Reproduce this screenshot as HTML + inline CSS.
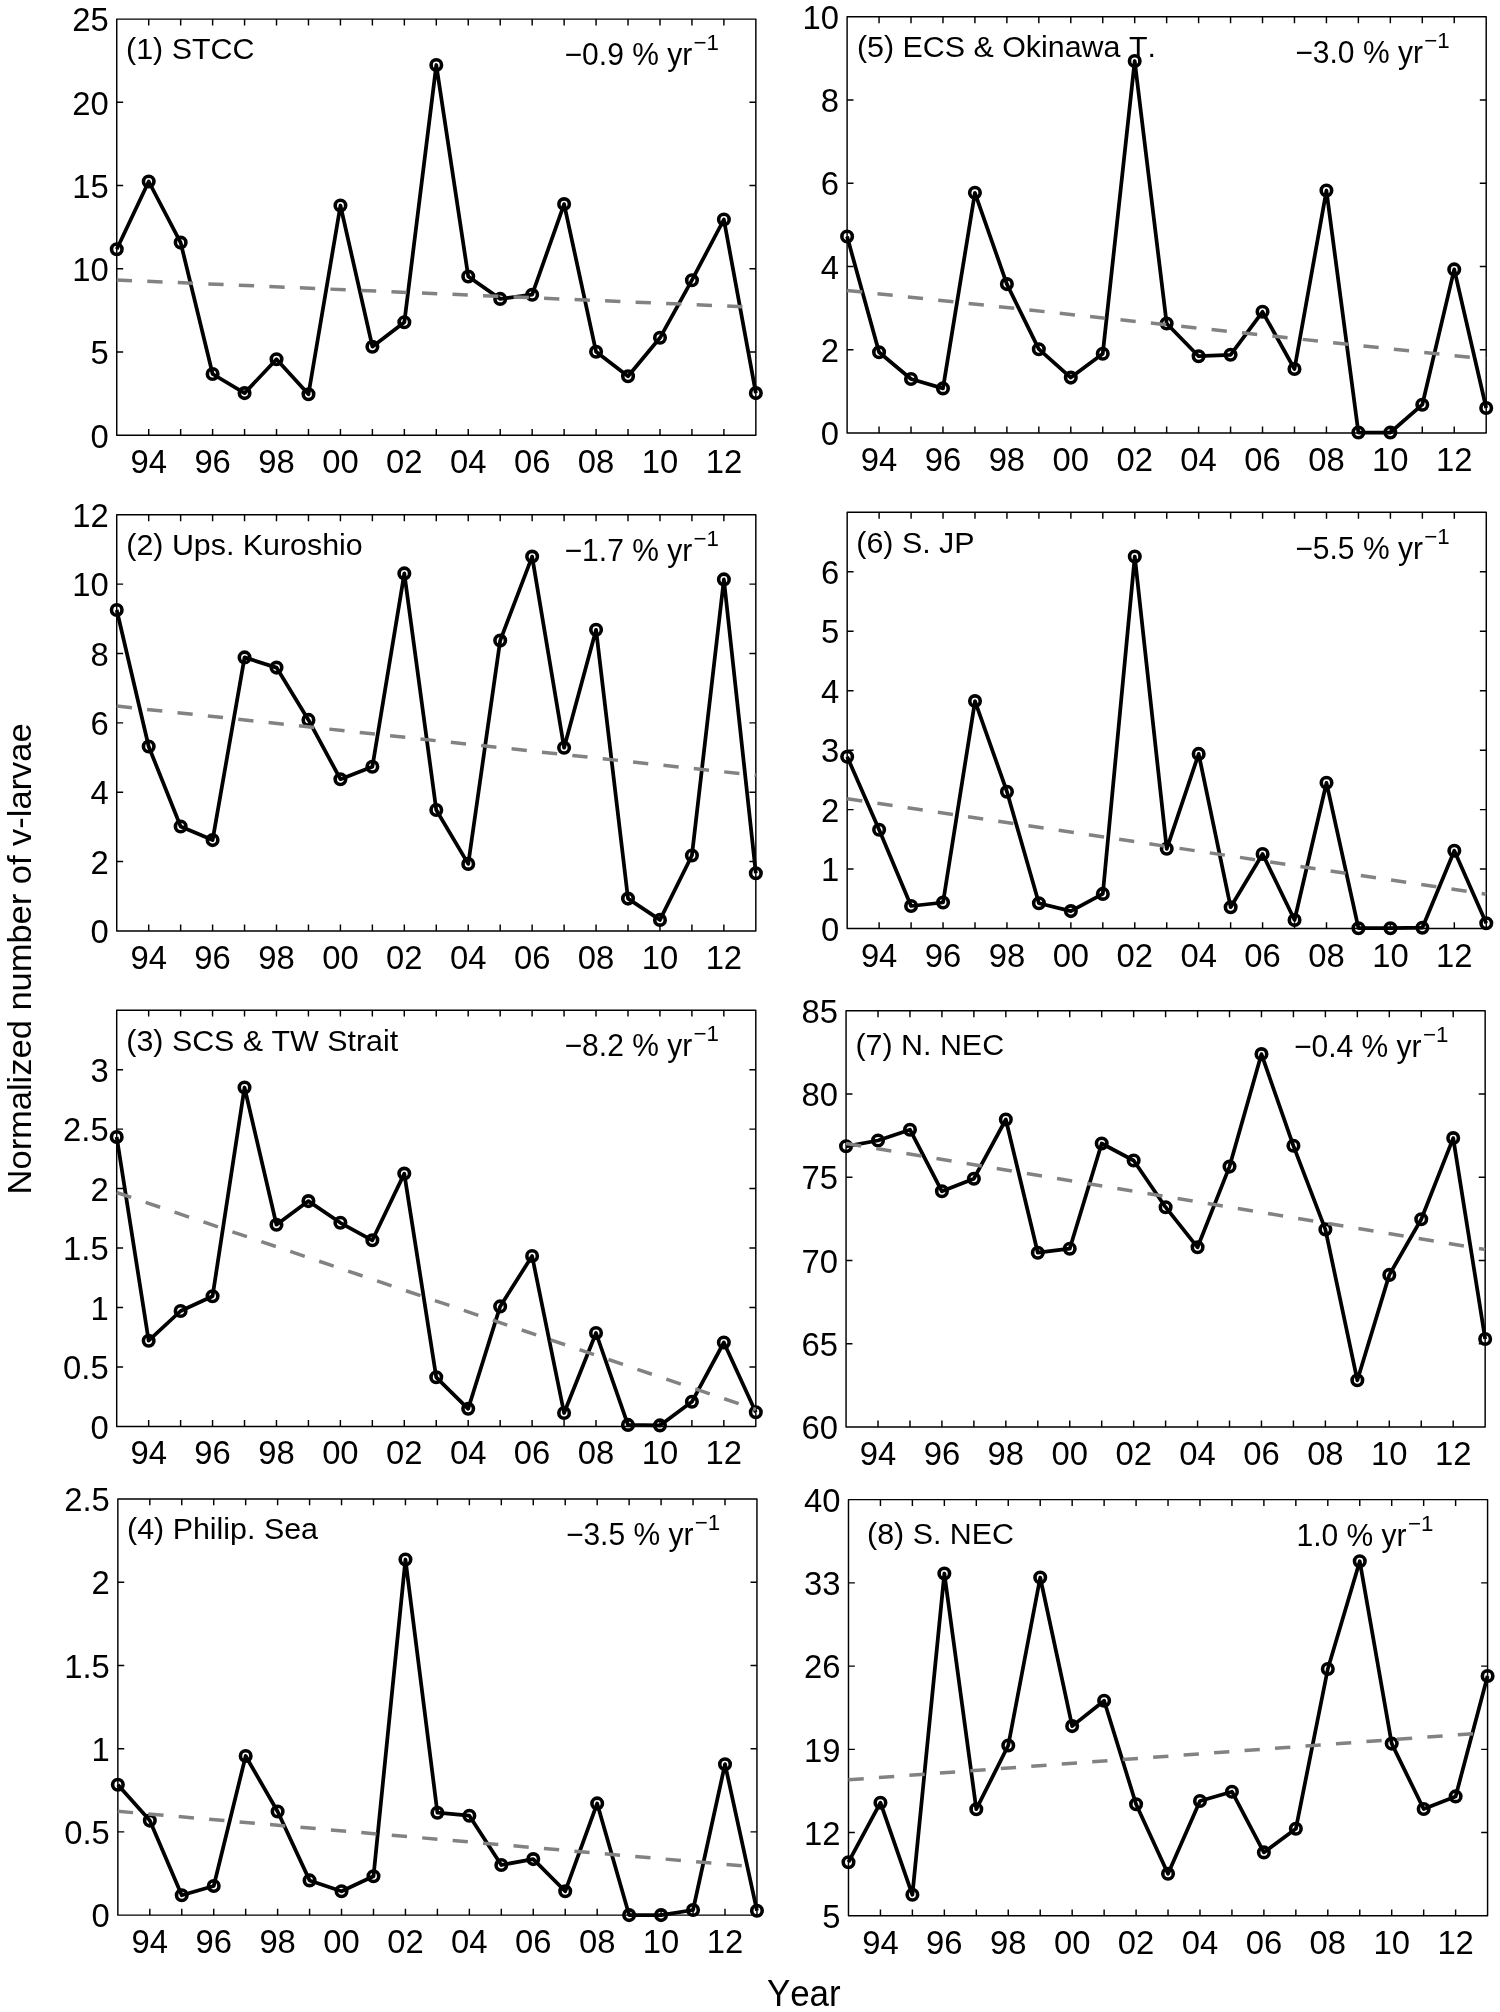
<!DOCTYPE html>
<html lang="en"><head><meta charset="utf-8"><title>Normalized number of v-larvae by region</title>
<style>html,body{margin:0;padding:0;background:#fff}body{width:1500px;height:2012px;overflow:hidden}svg{display:block;will-change:transform;transform:translateZ(0)}text{font-family:"Liberation Sans", Arial, Helvetica, sans-serif;fill:#000;font-kerning:none}</style></head><body>
<svg width="1500" height="2012" viewBox="0 0 1500 2012" role="img" aria-labelledby="fig-title fig-desc">
<title id="fig-title">Normalized number of v-larvae by region, 1993–2013</title>
<desc id="fig-desc">Eight time-series panels (STCC, Ups. Kuroshio, SCS &amp; TW Strait, Philip. Sea, ECS &amp; Okinawa T., S. JP, N. NEC, S. NEC) each with a dashed linear trend and its rate in percent per year.</desc>
<rect width="1500" height="2012" fill="#fff"/>
<g>
<rect x="116.75" y="19.1" width="639.1" height="416.2" fill="none" stroke="#000" stroke-width="1.45" stroke-linejoin="round"/>
<path d="M148.71 435.3v-6.4M148.71 19.1v6.4M180.66 435.3v-6.4M180.66 19.1v6.4M212.62 435.3v-6.4M212.62 19.1v6.4M244.57 435.3v-6.4M244.57 19.1v6.4M276.52 435.3v-6.4M276.52 19.1v6.4M308.48 435.3v-6.4M308.48 19.1v6.4M340.44 435.3v-6.4M340.44 19.1v6.4M372.39 435.3v-6.4M372.39 19.1v6.4M404.35 435.3v-6.4M404.35 19.1v6.4M436.3 435.3v-6.4M436.3 19.1v6.4M468.25 435.3v-6.4M468.25 19.1v6.4M500.21 435.3v-6.4M500.21 19.1v6.4M532.16 435.3v-6.4M532.16 19.1v6.4M564.12 435.3v-6.4M564.12 19.1v6.4M596.08 435.3v-6.4M596.08 19.1v6.4M628.03 435.3v-6.4M628.03 19.1v6.4M659.99 435.3v-6.4M659.99 19.1v6.4M691.94 435.3v-6.4M691.94 19.1v6.4M723.89 435.3v-6.4M723.89 19.1v6.4M116.75 352.06h6.4M755.85 352.06h-6.4M116.75 268.82h6.4M755.85 268.82h-6.4M116.75 185.58h6.4M755.85 185.58h-6.4M116.75 102.34h6.4M755.85 102.34h-6.4" fill="none" stroke="#000" stroke-width="1.45"/>
<g font-size="32.8" text-anchor="middle">
<text x="148.71" y="473.3">94</text>
<text x="212.62" y="473.3">96</text>
<text x="276.52" y="473.3">98</text>
<text x="340.44" y="473.3">00</text>
<text x="404.35" y="473.3">02</text>
<text x="468.25" y="473.3">04</text>
<text x="532.16" y="473.3">06</text>
<text x="596.08" y="473.3">08</text>
<text x="659.99" y="473.3">10</text>
<text x="723.89" y="473.3">12</text>
</g>
<g font-size="32.8" text-anchor="end">
<text x="108.75" y="447.5">0</text>
<text x="108.75" y="364.26">5</text>
<text x="108.75" y="281.02">10</text>
<text x="108.75" y="197.78">15</text>
<text x="108.75" y="114.54">20</text>
<text x="108.75" y="31.3">25</text>
</g>
<text x="126.1" y="59" font-size="30.4">(1) STCC</text>
<text x="564.6" y="65.3" font-size="31" textLength="127.6" lengthAdjust="spacingAndGlyphs">−0.9 % yr</text>
<text x="693.5" y="50.4" font-size="22.3">−1</text>
<polyline points="116.75,249.2 148.71,181.5 180.66,242.6 212.62,374 244.57,393.1 276.52,359.3 308.48,394.3 340.44,205.5 372.39,346.7 404.35,322.2 436.3,65 468.25,276.5 500.21,298.9 532.16,294.7 564.12,204.1 596.08,351.8 628.03,376.3 659.99,337.8 691.94,280.2 723.89,219.5 755.85,393.1" fill="none" stroke="#000" stroke-width="3.75" stroke-linejoin="round" stroke-linecap="butt"/>
<g fill="none" stroke="#000" stroke-width="3.6">
<circle cx="116.75" cy="249.2" r="5.25"/>
<circle cx="148.71" cy="181.5" r="5.25"/>
<circle cx="180.66" cy="242.6" r="5.25"/>
<circle cx="212.62" cy="374" r="5.25"/>
<circle cx="244.57" cy="393.1" r="5.25"/>
<circle cx="276.52" cy="359.3" r="5.25"/>
<circle cx="308.48" cy="394.3" r="5.25"/>
<circle cx="340.44" cy="205.5" r="5.25"/>
<circle cx="372.39" cy="346.7" r="5.25"/>
<circle cx="404.35" cy="322.2" r="5.25"/>
<circle cx="436.3" cy="65" r="5.25"/>
<circle cx="468.25" cy="276.5" r="5.25"/>
<circle cx="500.21" cy="298.9" r="5.25"/>
<circle cx="532.16" cy="294.7" r="5.25"/>
<circle cx="564.12" cy="204.1" r="5.25"/>
<circle cx="596.08" cy="351.8" r="5.25"/>
<circle cx="628.03" cy="376.3" r="5.25"/>
<circle cx="659.99" cy="337.8" r="5.25"/>
<circle cx="691.94" cy="280.2" r="5.25"/>
<circle cx="723.89" cy="219.5" r="5.25"/>
<circle cx="755.85" cy="393.1" r="5.25"/>
</g>
<line x1="116.75" y1="280" x2="755.85" y2="307.3" stroke="#828282" stroke-width="3.5" stroke-dasharray="15.3 15.25"/>
</g>
<g>
<rect x="116.73" y="514.75" width="639.1" height="416.2" fill="none" stroke="#000" stroke-width="1.45" stroke-linejoin="round"/>
<path d="M148.69 930.95v-6.4M148.69 514.75v6.4M180.64 930.95v-6.4M180.64 514.75v6.4M212.6 930.95v-6.4M212.6 514.75v6.4M244.55 930.95v-6.4M244.55 514.75v6.4M276.5 930.95v-6.4M276.5 514.75v6.4M308.46 930.95v-6.4M308.46 514.75v6.4M340.42 930.95v-6.4M340.42 514.75v6.4M372.37 930.95v-6.4M372.37 514.75v6.4M404.33 930.95v-6.4M404.33 514.75v6.4M436.28 930.95v-6.4M436.28 514.75v6.4M468.24 930.95v-6.4M468.24 514.75v6.4M500.19 930.95v-6.4M500.19 514.75v6.4M532.14 930.95v-6.4M532.14 514.75v6.4M564.1 930.95v-6.4M564.1 514.75v6.4M596.06 930.95v-6.4M596.06 514.75v6.4M628.01 930.95v-6.4M628.01 514.75v6.4M659.97 930.95v-6.4M659.97 514.75v6.4M691.92 930.95v-6.4M691.92 514.75v6.4M723.88 930.95v-6.4M723.88 514.75v6.4M116.73 861.58h6.4M755.83 861.58h-6.4M116.73 792.22h6.4M755.83 792.22h-6.4M116.73 722.85h6.4M755.83 722.85h-6.4M116.73 653.48h6.4M755.83 653.48h-6.4M116.73 584.12h6.4M755.83 584.12h-6.4" fill="none" stroke="#000" stroke-width="1.45"/>
<g font-size="32.8" text-anchor="middle">
<text x="148.69" y="968.95">94</text>
<text x="212.6" y="968.95">96</text>
<text x="276.5" y="968.95">98</text>
<text x="340.42" y="968.95">00</text>
<text x="404.33" y="968.95">02</text>
<text x="468.24" y="968.95">04</text>
<text x="532.14" y="968.95">06</text>
<text x="596.06" y="968.95">08</text>
<text x="659.97" y="968.95">10</text>
<text x="723.88" y="968.95">12</text>
</g>
<g font-size="32.8" text-anchor="end">
<text x="108.73" y="943.15">0</text>
<text x="108.73" y="873.78">2</text>
<text x="108.73" y="804.42">4</text>
<text x="108.73" y="735.05">6</text>
<text x="108.73" y="665.68">8</text>
<text x="108.73" y="596.32">10</text>
<text x="108.73" y="526.95">12</text>
</g>
<text x="126.3" y="555.1" font-size="30.4">(2) Ups. Kuroshio</text>
<text x="564.6" y="560.9" font-size="31" textLength="127.6" lengthAdjust="spacingAndGlyphs">−1.7 % yr</text>
<text x="693.5" y="546" font-size="22.3">−1</text>
<polyline points="116.73,610 148.69,746.5 180.64,826.5 212.6,840.1 244.55,657.4 276.5,667.6 308.46,719.9 340.42,779.2 372.37,766.8 404.33,573.4 436.28,810 468.24,863.9 500.19,640.6 532.14,556.6 564.1,747.7 596.06,629.8 628.01,898.6 659.97,919.9 691.92,855.5 723.88,579.4 755.83,873.2" fill="none" stroke="#000" stroke-width="3.75" stroke-linejoin="round" stroke-linecap="butt"/>
<g fill="none" stroke="#000" stroke-width="3.6">
<circle cx="116.73" cy="610" r="5.25"/>
<circle cx="148.69" cy="746.5" r="5.25"/>
<circle cx="180.64" cy="826.5" r="5.25"/>
<circle cx="212.6" cy="840.1" r="5.25"/>
<circle cx="244.55" cy="657.4" r="5.25"/>
<circle cx="276.5" cy="667.6" r="5.25"/>
<circle cx="308.46" cy="719.9" r="5.25"/>
<circle cx="340.42" cy="779.2" r="5.25"/>
<circle cx="372.37" cy="766.8" r="5.25"/>
<circle cx="404.33" cy="573.4" r="5.25"/>
<circle cx="436.28" cy="810" r="5.25"/>
<circle cx="468.24" cy="863.9" r="5.25"/>
<circle cx="500.19" cy="640.6" r="5.25"/>
<circle cx="532.14" cy="556.6" r="5.25"/>
<circle cx="564.1" cy="747.7" r="5.25"/>
<circle cx="596.06" cy="629.8" r="5.25"/>
<circle cx="628.01" cy="898.6" r="5.25"/>
<circle cx="659.97" cy="919.9" r="5.25"/>
<circle cx="691.92" cy="855.5" r="5.25"/>
<circle cx="723.88" cy="579.4" r="5.25"/>
<circle cx="755.83" cy="873.2" r="5.25"/>
</g>
<line x1="116.73" y1="706.1" x2="755.83" y2="775.3" stroke="#828282" stroke-width="3.5" stroke-dasharray="15.3 15.25"/>
</g>
<g>
<rect x="116.7" y="1010.2" width="639.1" height="416.2" fill="none" stroke="#000" stroke-width="1.45" stroke-linejoin="round"/>
<path d="M148.66 1426.4v-6.4M148.66 1010.2v6.4M180.61 1426.4v-6.4M180.61 1010.2v6.4M212.56 1426.4v-6.4M212.56 1010.2v6.4M244.52 1426.4v-6.4M244.52 1010.2v6.4M276.47 1426.4v-6.4M276.47 1010.2v6.4M308.43 1426.4v-6.4M308.43 1010.2v6.4M340.38 1426.4v-6.4M340.38 1010.2v6.4M372.34 1426.4v-6.4M372.34 1010.2v6.4M404.29 1426.4v-6.4M404.29 1010.2v6.4M436.25 1426.4v-6.4M436.25 1010.2v6.4M468.2 1426.4v-6.4M468.2 1010.2v6.4M500.16 1426.4v-6.4M500.16 1010.2v6.4M532.11 1426.4v-6.4M532.11 1010.2v6.4M564.07 1426.4v-6.4M564.07 1010.2v6.4M596.02 1426.4v-6.4M596.02 1010.2v6.4M627.98 1426.4v-6.4M627.98 1010.2v6.4M659.93 1426.4v-6.4M659.93 1010.2v6.4M691.89 1426.4v-6.4M691.89 1010.2v6.4M723.84 1426.4v-6.4M723.84 1010.2v6.4M116.7 1366.94h6.4M755.8 1366.94h-6.4M116.7 1307.49h6.4M755.8 1307.49h-6.4M116.7 1248.03h6.4M755.8 1248.03h-6.4M116.7 1188.57h6.4M755.8 1188.57h-6.4M116.7 1129.11h6.4M755.8 1129.11h-6.4M116.7 1069.66h6.4M755.8 1069.66h-6.4" fill="none" stroke="#000" stroke-width="1.45"/>
<g font-size="32.8" text-anchor="middle">
<text x="148.66" y="1464.4">94</text>
<text x="212.56" y="1464.4">96</text>
<text x="276.47" y="1464.4">98</text>
<text x="340.38" y="1464.4">00</text>
<text x="404.29" y="1464.4">02</text>
<text x="468.2" y="1464.4">04</text>
<text x="532.11" y="1464.4">06</text>
<text x="596.02" y="1464.4">08</text>
<text x="659.93" y="1464.4">10</text>
<text x="723.84" y="1464.4">12</text>
</g>
<g font-size="32.8" text-anchor="end">
<text x="108.7" y="1438.6">0</text>
<text x="108.7" y="1379.14">0.5</text>
<text x="108.7" y="1319.69">1</text>
<text x="108.7" y="1260.23">1.5</text>
<text x="108.7" y="1200.77">2</text>
<text x="108.7" y="1141.31">2.5</text>
<text x="108.7" y="1081.86">3</text>
</g>
<text x="126.3" y="1050.6" font-size="30.4">(3) SCS &amp; TW Strait</text>
<text x="564.6" y="1056.2" font-size="31" textLength="127.6" lengthAdjust="spacingAndGlyphs">−8.2 % yr</text>
<text x="693.5" y="1041.3" font-size="22.3">−1</text>
<polyline points="116.7,1137 148.66,1340.7 180.61,1311 212.56,1296.3 244.52,1087.5 276.47,1224.7 308.43,1201.1 340.38,1222.8 372.34,1240.3 404.29,1173.6 436.25,1377.3 468.2,1408.8 500.16,1306.4 532.11,1256 564.07,1413 596.02,1333 627.98,1424.9 659.93,1425.4 691.89,1401.8 723.84,1342.5 755.8,1412.3" fill="none" stroke="#000" stroke-width="3.75" stroke-linejoin="round" stroke-linecap="butt"/>
<g fill="none" stroke="#000" stroke-width="3.6">
<circle cx="116.7" cy="1137" r="5.25"/>
<circle cx="148.66" cy="1340.7" r="5.25"/>
<circle cx="180.61" cy="1311" r="5.25"/>
<circle cx="212.56" cy="1296.3" r="5.25"/>
<circle cx="244.52" cy="1087.5" r="5.25"/>
<circle cx="276.47" cy="1224.7" r="5.25"/>
<circle cx="308.43" cy="1201.1" r="5.25"/>
<circle cx="340.38" cy="1222.8" r="5.25"/>
<circle cx="372.34" cy="1240.3" r="5.25"/>
<circle cx="404.29" cy="1173.6" r="5.25"/>
<circle cx="436.25" cy="1377.3" r="5.25"/>
<circle cx="468.2" cy="1408.8" r="5.25"/>
<circle cx="500.16" cy="1306.4" r="5.25"/>
<circle cx="532.11" cy="1256" r="5.25"/>
<circle cx="564.07" cy="1413" r="5.25"/>
<circle cx="596.02" cy="1333" r="5.25"/>
<circle cx="627.98" cy="1424.9" r="5.25"/>
<circle cx="659.93" cy="1425.4" r="5.25"/>
<circle cx="691.89" cy="1401.8" r="5.25"/>
<circle cx="723.84" cy="1342.5" r="5.25"/>
<circle cx="755.8" cy="1412.3" r="5.25"/>
</g>
<line x1="116.7" y1="1192.5" x2="755.8" y2="1409.5" stroke="#828282" stroke-width="3.5" stroke-dasharray="15.3 15.25"/>
</g>
<g>
<rect x="117.85" y="1498.93" width="639.1" height="416.2" fill="none" stroke="#000" stroke-width="1.45" stroke-linejoin="round"/>
<path d="M149.81 1915.13v-6.4M149.81 1498.93v6.4M181.76 1915.13v-6.4M181.76 1498.93v6.4M213.72 1915.13v-6.4M213.72 1498.93v6.4M245.67 1915.13v-6.4M245.67 1498.93v6.4M277.62 1915.13v-6.4M277.62 1498.93v6.4M309.58 1915.13v-6.4M309.58 1498.93v6.4M341.53 1915.13v-6.4M341.53 1498.93v6.4M373.49 1915.13v-6.4M373.49 1498.93v6.4M405.45 1915.13v-6.4M405.45 1498.93v6.4M437.4 1915.13v-6.4M437.4 1498.93v6.4M469.36 1915.13v-6.4M469.36 1498.93v6.4M501.31 1915.13v-6.4M501.31 1498.93v6.4M533.26 1915.13v-6.4M533.26 1498.93v6.4M565.22 1915.13v-6.4M565.22 1498.93v6.4M597.18 1915.13v-6.4M597.18 1498.93v6.4M629.13 1915.13v-6.4M629.13 1498.93v6.4M661.09 1915.13v-6.4M661.09 1498.93v6.4M693.04 1915.13v-6.4M693.04 1498.93v6.4M725 1915.13v-6.4M725 1498.93v6.4M117.85 1831.89h6.4M756.95 1831.89h-6.4M117.85 1748.65h6.4M756.95 1748.65h-6.4M117.85 1665.41h6.4M756.95 1665.41h-6.4M117.85 1582.17h6.4M756.95 1582.17h-6.4" fill="none" stroke="#000" stroke-width="1.45"/>
<g font-size="32.8" text-anchor="middle">
<text x="149.81" y="1953.13">94</text>
<text x="213.72" y="1953.13">96</text>
<text x="277.62" y="1953.13">98</text>
<text x="341.53" y="1953.13">00</text>
<text x="405.45" y="1953.13">02</text>
<text x="469.36" y="1953.13">04</text>
<text x="533.26" y="1953.13">06</text>
<text x="597.18" y="1953.13">08</text>
<text x="661.09" y="1953.13">10</text>
<text x="725" y="1953.13">12</text>
</g>
<g font-size="32.8" text-anchor="end">
<text x="109.85" y="1927.33">0</text>
<text x="109.85" y="1844.09">0.5</text>
<text x="109.85" y="1760.85">1</text>
<text x="109.85" y="1677.61">1.5</text>
<text x="109.85" y="1594.37">2</text>
<text x="109.85" y="1511.13">2.5</text>
</g>
<text x="127.1" y="1538.8" font-size="30.4">(4) Philip. Sea</text>
<text x="565.9" y="1545.2" font-size="31" textLength="127.6" lengthAdjust="spacingAndGlyphs">−3.5 % yr</text>
<text x="694.8" y="1530.3" font-size="22.3">−1</text>
<polyline points="117.85,1784.7 149.81,1820.6 181.76,1895.3 213.72,1886 245.67,1756 277.62,1811.5 309.58,1880.4 341.53,1891.3 373.49,1876.2 405.45,1559.5 437.4,1812.7 469.36,1815.7 501.31,1865 533.26,1859.1 565.22,1891.3 597.18,1803.4 629.13,1915.1 661.09,1915.1 693.04,1910 725,1764.2 756.95,1910.7" fill="none" stroke="#000" stroke-width="3.75" stroke-linejoin="round" stroke-linecap="butt"/>
<g fill="none" stroke="#000" stroke-width="3.6">
<circle cx="117.85" cy="1784.7" r="5.25"/>
<circle cx="149.81" cy="1820.6" r="5.25"/>
<circle cx="181.76" cy="1895.3" r="5.25"/>
<circle cx="213.72" cy="1886" r="5.25"/>
<circle cx="245.67" cy="1756" r="5.25"/>
<circle cx="277.62" cy="1811.5" r="5.25"/>
<circle cx="309.58" cy="1880.4" r="5.25"/>
<circle cx="341.53" cy="1891.3" r="5.25"/>
<circle cx="373.49" cy="1876.2" r="5.25"/>
<circle cx="405.45" cy="1559.5" r="5.25"/>
<circle cx="437.4" cy="1812.7" r="5.25"/>
<circle cx="469.36" cy="1815.7" r="5.25"/>
<circle cx="501.31" cy="1865" r="5.25"/>
<circle cx="533.26" cy="1859.1" r="5.25"/>
<circle cx="565.22" cy="1891.3" r="5.25"/>
<circle cx="597.18" cy="1803.4" r="5.25"/>
<circle cx="629.13" cy="1915.1" r="5.25"/>
<circle cx="661.09" cy="1915.1" r="5.25"/>
<circle cx="693.04" cy="1910" r="5.25"/>
<circle cx="725" cy="1764.2" r="5.25"/>
<circle cx="756.95" cy="1910.7" r="5.25"/>
</g>
<line x1="117.85" y1="1811.3" x2="756.95" y2="1867.1" stroke="#828282" stroke-width="3.5" stroke-dasharray="15.3 15.25"/>
</g>
<g>
<rect x="847.1" y="16.8" width="639.1" height="416.2" fill="none" stroke="#000" stroke-width="1.45" stroke-linejoin="round"/>
<path d="M879.06 433v-6.4M879.06 16.8v6.4M911.01 433v-6.4M911.01 16.8v6.4M942.97 433v-6.4M942.97 16.8v6.4M974.92 433v-6.4M974.92 16.8v6.4M1006.88 433v-6.4M1006.88 16.8v6.4M1038.83 433v-6.4M1038.83 16.8v6.4M1070.79 433v-6.4M1070.79 16.8v6.4M1102.74 433v-6.4M1102.74 16.8v6.4M1134.7 433v-6.4M1134.7 16.8v6.4M1166.65 433v-6.4M1166.65 16.8v6.4M1198.61 433v-6.4M1198.61 16.8v6.4M1230.56 433v-6.4M1230.56 16.8v6.4M1262.52 433v-6.4M1262.52 16.8v6.4M1294.47 433v-6.4M1294.47 16.8v6.4M1326.43 433v-6.4M1326.43 16.8v6.4M1358.38 433v-6.4M1358.38 16.8v6.4M1390.34 433v-6.4M1390.34 16.8v6.4M1422.29 433v-6.4M1422.29 16.8v6.4M1454.24 433v-6.4M1454.24 16.8v6.4M847.1 349.76h6.4M1486.2 349.76h-6.4M847.1 266.52h6.4M1486.2 266.52h-6.4M847.1 183.28h6.4M1486.2 183.28h-6.4M847.1 100.04h6.4M1486.2 100.04h-6.4" fill="none" stroke="#000" stroke-width="1.45"/>
<g font-size="32.8" text-anchor="middle">
<text x="879.06" y="471">94</text>
<text x="942.97" y="471">96</text>
<text x="1006.88" y="471">98</text>
<text x="1070.79" y="471">00</text>
<text x="1134.7" y="471">02</text>
<text x="1198.61" y="471">04</text>
<text x="1262.52" y="471">06</text>
<text x="1326.43" y="471">08</text>
<text x="1390.34" y="471">10</text>
<text x="1454.24" y="471">12</text>
</g>
<g font-size="32.8" text-anchor="end">
<text x="839.1" y="445.2">0</text>
<text x="839.1" y="361.96">2</text>
<text x="839.1" y="278.72">4</text>
<text x="839.1" y="195.48">6</text>
<text x="839.1" y="112.24">8</text>
<text x="839.1" y="29">10</text>
</g>
<text x="857" y="57.1" font-size="30.4">(5) ECS &amp; Okinawa T.</text>
<text x="1295.3" y="62.85" font-size="31" textLength="127.6" lengthAdjust="spacingAndGlyphs">−3.0 % yr</text>
<text x="1424.2" y="47.95" font-size="22.3">−1</text>
<polyline points="847.1,236.5 879.06,352.2 911.01,379 942.97,388.4 974.92,192.8 1006.88,284.1 1038.83,349.2 1070.79,377.6 1102.74,353.8 1134.7,61 1166.65,323.5 1198.61,356.2 1230.56,354.8 1262.52,311.8 1294.47,369 1326.43,190.5 1358.38,432.5 1390.34,432.5 1422.29,404.7 1454.24,269.4 1486.2,408" fill="none" stroke="#000" stroke-width="3.75" stroke-linejoin="round" stroke-linecap="butt"/>
<g fill="none" stroke="#000" stroke-width="3.6">
<circle cx="847.1" cy="236.5" r="5.25"/>
<circle cx="879.06" cy="352.2" r="5.25"/>
<circle cx="911.01" cy="379" r="5.25"/>
<circle cx="942.97" cy="388.4" r="5.25"/>
<circle cx="974.92" cy="192.8" r="5.25"/>
<circle cx="1006.88" cy="284.1" r="5.25"/>
<circle cx="1038.83" cy="349.2" r="5.25"/>
<circle cx="1070.79" cy="377.6" r="5.25"/>
<circle cx="1102.74" cy="353.8" r="5.25"/>
<circle cx="1134.7" cy="61" r="5.25"/>
<circle cx="1166.65" cy="323.5" r="5.25"/>
<circle cx="1198.61" cy="356.2" r="5.25"/>
<circle cx="1230.56" cy="354.8" r="5.25"/>
<circle cx="1262.52" cy="311.8" r="5.25"/>
<circle cx="1294.47" cy="369" r="5.25"/>
<circle cx="1326.43" cy="190.5" r="5.25"/>
<circle cx="1358.38" cy="432.5" r="5.25"/>
<circle cx="1390.34" cy="432.5" r="5.25"/>
<circle cx="1422.29" cy="404.7" r="5.25"/>
<circle cx="1454.24" cy="269.4" r="5.25"/>
<circle cx="1486.2" cy="408" r="5.25"/>
</g>
<line x1="847.1" y1="290.4" x2="1486.2" y2="359.1" stroke="#828282" stroke-width="3.5" stroke-dasharray="15.3 15.25"/>
</g>
<g>
<rect x="847.18" y="512.33" width="639.1" height="416.2" fill="none" stroke="#000" stroke-width="1.45" stroke-linejoin="round"/>
<path d="M879.13 928.53v-6.4M879.13 512.33v6.4M911.09 928.53v-6.4M911.09 512.33v6.4M943.04 928.53v-6.4M943.04 512.33v6.4M975 928.53v-6.4M975 512.33v6.4M1006.95 928.53v-6.4M1006.95 512.33v6.4M1038.91 928.53v-6.4M1038.91 512.33v6.4M1070.87 928.53v-6.4M1070.87 512.33v6.4M1102.82 928.53v-6.4M1102.82 512.33v6.4M1134.78 928.53v-6.4M1134.78 512.33v6.4M1166.73 928.53v-6.4M1166.73 512.33v6.4M1198.68 928.53v-6.4M1198.68 512.33v6.4M1230.64 928.53v-6.4M1230.64 512.33v6.4M1262.6 928.53v-6.4M1262.6 512.33v6.4M1294.55 928.53v-6.4M1294.55 512.33v6.4M1326.51 928.53v-6.4M1326.51 512.33v6.4M1358.46 928.53v-6.4M1358.46 512.33v6.4M1390.41 928.53v-6.4M1390.41 512.33v6.4M1422.37 928.53v-6.4M1422.37 512.33v6.4M1454.32 928.53v-6.4M1454.32 512.33v6.4M847.18 869.07h6.4M1486.28 869.07h-6.4M847.18 809.62h6.4M1486.28 809.62h-6.4M847.18 750.16h6.4M1486.28 750.16h-6.4M847.18 690.7h6.4M1486.28 690.7h-6.4M847.18 631.24h6.4M1486.28 631.24h-6.4M847.18 571.79h6.4M1486.28 571.79h-6.4" fill="none" stroke="#000" stroke-width="1.45"/>
<g font-size="32.8" text-anchor="middle">
<text x="879.13" y="966.53">94</text>
<text x="943.04" y="966.53">96</text>
<text x="1006.95" y="966.53">98</text>
<text x="1070.87" y="966.53">00</text>
<text x="1134.78" y="966.53">02</text>
<text x="1198.68" y="966.53">04</text>
<text x="1262.6" y="966.53">06</text>
<text x="1326.51" y="966.53">08</text>
<text x="1390.41" y="966.53">10</text>
<text x="1454.32" y="966.53">12</text>
</g>
<g font-size="32.8" text-anchor="end">
<text x="839.18" y="940.73">0</text>
<text x="839.18" y="881.27">1</text>
<text x="839.18" y="821.82">2</text>
<text x="839.18" y="762.36">3</text>
<text x="839.18" y="702.9">4</text>
<text x="839.18" y="643.44">5</text>
<text x="839.18" y="583.99">6</text>
</g>
<text x="856.3" y="552.6" font-size="30.4">(6) S. JP</text>
<text x="1295.3" y="558.5" font-size="31" textLength="127.6" lengthAdjust="spacingAndGlyphs">−5.5 % yr</text>
<text x="1424.2" y="543.6" font-size="22.3">−1</text>
<polyline points="847.18,756.7 879.13,829.7 911.09,906 943.04,902.5 975,701.1 1006.95,791.7 1038.91,903.2 1070.87,911.1 1102.82,893.9 1134.78,556.5 1166.73,848.8 1198.68,753.9 1230.64,907.2 1262.6,854 1294.55,920 1326.51,782.8 1358.46,928.2 1390.41,928.2 1422.37,927.7 1454.32,850.7 1486.28,923.3" fill="none" stroke="#000" stroke-width="3.75" stroke-linejoin="round" stroke-linecap="butt"/>
<g fill="none" stroke="#000" stroke-width="3.6">
<circle cx="847.18" cy="756.7" r="5.25"/>
<circle cx="879.13" cy="829.7" r="5.25"/>
<circle cx="911.09" cy="906" r="5.25"/>
<circle cx="943.04" cy="902.5" r="5.25"/>
<circle cx="975" cy="701.1" r="5.25"/>
<circle cx="1006.95" cy="791.7" r="5.25"/>
<circle cx="1038.91" cy="903.2" r="5.25"/>
<circle cx="1070.87" cy="911.1" r="5.25"/>
<circle cx="1102.82" cy="893.9" r="5.25"/>
<circle cx="1134.78" cy="556.5" r="5.25"/>
<circle cx="1166.73" cy="848.8" r="5.25"/>
<circle cx="1198.68" cy="753.9" r="5.25"/>
<circle cx="1230.64" cy="907.2" r="5.25"/>
<circle cx="1262.6" cy="854" r="5.25"/>
<circle cx="1294.55" cy="920" r="5.25"/>
<circle cx="1326.51" cy="782.8" r="5.25"/>
<circle cx="1358.46" cy="928.2" r="5.25"/>
<circle cx="1390.41" cy="928.2" r="5.25"/>
<circle cx="1422.37" cy="927.7" r="5.25"/>
<circle cx="1454.32" cy="850.7" r="5.25"/>
<circle cx="1486.28" cy="923.3" r="5.25"/>
</g>
<line x1="847.18" y1="798.7" x2="1486.28" y2="894.2" stroke="#828282" stroke-width="3.5" stroke-dasharray="15.3 15.25"/>
</g>
<g>
<rect x="846.06" y="1010.74" width="639.1" height="416.2" fill="none" stroke="#000" stroke-width="1.45" stroke-linejoin="round"/>
<path d="M878.01 1426.94v-6.4M878.01 1010.74v6.4M909.97 1426.94v-6.4M909.97 1010.74v6.4M941.92 1426.94v-6.4M941.92 1010.74v6.4M973.88 1426.94v-6.4M973.88 1010.74v6.4M1005.84 1426.94v-6.4M1005.84 1010.74v6.4M1037.79 1426.94v-6.4M1037.79 1010.74v6.4M1069.74 1426.94v-6.4M1069.74 1010.74v6.4M1101.7 1426.94v-6.4M1101.7 1010.74v6.4M1133.65 1426.94v-6.4M1133.65 1010.74v6.4M1165.61 1426.94v-6.4M1165.61 1010.74v6.4M1197.57 1426.94v-6.4M1197.57 1010.74v6.4M1229.52 1426.94v-6.4M1229.52 1010.74v6.4M1261.47 1426.94v-6.4M1261.47 1010.74v6.4M1293.43 1426.94v-6.4M1293.43 1010.74v6.4M1325.38 1426.94v-6.4M1325.38 1010.74v6.4M1357.34 1426.94v-6.4M1357.34 1010.74v6.4M1389.3 1426.94v-6.4M1389.3 1010.74v6.4M1421.25 1426.94v-6.4M1421.25 1010.74v6.4M1453.2 1426.94v-6.4M1453.2 1010.74v6.4M846.06 1343.7h6.4M1485.16 1343.7h-6.4M846.06 1260.46h6.4M1485.16 1260.46h-6.4M846.06 1177.22h6.4M1485.16 1177.22h-6.4M846.06 1093.98h6.4M1485.16 1093.98h-6.4" fill="none" stroke="#000" stroke-width="1.45"/>
<g font-size="32.8" text-anchor="middle">
<text x="878.01" y="1464.94">94</text>
<text x="941.92" y="1464.94">96</text>
<text x="1005.84" y="1464.94">98</text>
<text x="1069.74" y="1464.94">00</text>
<text x="1133.65" y="1464.94">02</text>
<text x="1197.57" y="1464.94">04</text>
<text x="1261.47" y="1464.94">06</text>
<text x="1325.38" y="1464.94">08</text>
<text x="1389.3" y="1464.94">10</text>
<text x="1453.2" y="1464.94">12</text>
</g>
<g font-size="32.8" text-anchor="end">
<text x="838.06" y="1439.14">60</text>
<text x="838.06" y="1355.9">65</text>
<text x="838.06" y="1272.66">70</text>
<text x="838.06" y="1189.42">75</text>
<text x="838.06" y="1106.18">80</text>
<text x="838.06" y="1022.94">85</text>
</g>
<text x="855.5" y="1055.2" font-size="30.4">(7) N. NEC</text>
<text x="1294" y="1057.05" font-size="31" textLength="127.6" lengthAdjust="spacingAndGlyphs">−0.4 % yr</text>
<text x="1422.9" y="1042.15" font-size="22.3">−1</text>
<polyline points="846.06,1146.3 878.01,1140.5 909.97,1129.7 941.92,1191.3 973.88,1178.7 1005.84,1119.5 1037.79,1252.7 1069.74,1248.7 1101.7,1143.5 1133.65,1160.5 1165.61,1207.2 1197.57,1247.3 1229.52,1166.6 1261.47,1054.1 1293.43,1145.8 1325.38,1229.4 1357.34,1380.3 1389.3,1274.9 1421.25,1219.3 1453.2,1138.1 1485.16,1339" fill="none" stroke="#000" stroke-width="3.75" stroke-linejoin="round" stroke-linecap="butt"/>
<g fill="none" stroke="#000" stroke-width="3.6">
<circle cx="846.06" cy="1146.3" r="5.25"/>
<circle cx="878.01" cy="1140.5" r="5.25"/>
<circle cx="909.97" cy="1129.7" r="5.25"/>
<circle cx="941.92" cy="1191.3" r="5.25"/>
<circle cx="973.88" cy="1178.7" r="5.25"/>
<circle cx="1005.84" cy="1119.5" r="5.25"/>
<circle cx="1037.79" cy="1252.7" r="5.25"/>
<circle cx="1069.74" cy="1248.7" r="5.25"/>
<circle cx="1101.7" cy="1143.5" r="5.25"/>
<circle cx="1133.65" cy="1160.5" r="5.25"/>
<circle cx="1165.61" cy="1207.2" r="5.25"/>
<circle cx="1197.57" cy="1247.3" r="5.25"/>
<circle cx="1229.52" cy="1166.6" r="5.25"/>
<circle cx="1261.47" cy="1054.1" r="5.25"/>
<circle cx="1293.43" cy="1145.8" r="5.25"/>
<circle cx="1325.38" cy="1229.4" r="5.25"/>
<circle cx="1357.34" cy="1380.3" r="5.25"/>
<circle cx="1389.3" cy="1274.9" r="5.25"/>
<circle cx="1421.25" cy="1219.3" r="5.25"/>
<circle cx="1453.2" cy="1138.1" r="5.25"/>
<circle cx="1485.16" cy="1339" r="5.25"/>
</g>
<line x1="846.06" y1="1143.5" x2="1485.16" y2="1249.5" stroke="#828282" stroke-width="3.5" stroke-dasharray="15.3 15.25"/>
</g>
<g>
<rect x="848.48" y="1499.63" width="639.1" height="416.2" fill="none" stroke="#000" stroke-width="1.45" stroke-linejoin="round"/>
<path d="M880.44 1915.83v-6.4M880.44 1499.63v6.4M912.39 1915.83v-6.4M912.39 1499.63v6.4M944.35 1915.83v-6.4M944.35 1499.63v6.4M976.3 1915.83v-6.4M976.3 1499.63v6.4M1008.25 1915.83v-6.4M1008.25 1499.63v6.4M1040.21 1915.83v-6.4M1040.21 1499.63v6.4M1072.16 1915.83v-6.4M1072.16 1499.63v6.4M1104.12 1915.83v-6.4M1104.12 1499.63v6.4M1136.08 1915.83v-6.4M1136.08 1499.63v6.4M1168.03 1915.83v-6.4M1168.03 1499.63v6.4M1199.98 1915.83v-6.4M1199.98 1499.63v6.4M1231.94 1915.83v-6.4M1231.94 1499.63v6.4M1263.89 1915.83v-6.4M1263.89 1499.63v6.4M1295.85 1915.83v-6.4M1295.85 1499.63v6.4M1327.8 1915.83v-6.4M1327.8 1499.63v6.4M1359.76 1915.83v-6.4M1359.76 1499.63v6.4M1391.71 1915.83v-6.4M1391.71 1499.63v6.4M1423.67 1915.83v-6.4M1423.67 1499.63v6.4M1455.62 1915.83v-6.4M1455.62 1499.63v6.4M848.48 1832.59h6.4M1487.58 1832.59h-6.4M848.48 1749.35h6.4M1487.58 1749.35h-6.4M848.48 1666.11h6.4M1487.58 1666.11h-6.4M848.48 1582.87h6.4M1487.58 1582.87h-6.4" fill="none" stroke="#000" stroke-width="1.45"/>
<g font-size="32.8" text-anchor="middle">
<text x="880.44" y="1953.83">94</text>
<text x="944.35" y="1953.83">96</text>
<text x="1008.25" y="1953.83">98</text>
<text x="1072.16" y="1953.83">00</text>
<text x="1136.08" y="1953.83">02</text>
<text x="1199.98" y="1953.83">04</text>
<text x="1263.89" y="1953.83">06</text>
<text x="1327.8" y="1953.83">08</text>
<text x="1391.71" y="1953.83">10</text>
<text x="1455.62" y="1953.83">12</text>
</g>
<g font-size="32.8" text-anchor="end">
<text x="840.48" y="1928.03">5</text>
<text x="840.48" y="1844.79">12</text>
<text x="840.48" y="1761.55">19</text>
<text x="840.48" y="1678.31">26</text>
<text x="840.48" y="1595.07">33</text>
<text x="840.48" y="1511.83">40</text>
</g>
<text x="867.1" y="1543.8" font-size="30.4">(8) S. NEC</text>
<text x="1296.5" y="1545.6" font-size="31" textLength="110.1" lengthAdjust="spacingAndGlyphs">1.0 % yr</text>
<text x="1407.9" y="1530.7" font-size="22.3">−1</text>
<polyline points="848.48,1862.2 880.44,1802.7 912.39,1894.8 944.35,1573.5 976.3,1809.2 1008.25,1745.5 1040.21,1577.5 1072.16,1726.1 1104.12,1700.7 1136.08,1804.3 1168.03,1873.8 1199.98,1801 1231.94,1791.7 1263.89,1852.4 1295.85,1828.8 1327.8,1669 1359.76,1561.2 1391.71,1743.6 1423.67,1809 1455.62,1796.4 1487.58,1676" fill="none" stroke="#000" stroke-width="3.75" stroke-linejoin="round" stroke-linecap="butt"/>
<g fill="none" stroke="#000" stroke-width="3.6">
<circle cx="848.48" cy="1862.2" r="5.25"/>
<circle cx="880.44" cy="1802.7" r="5.25"/>
<circle cx="912.39" cy="1894.8" r="5.25"/>
<circle cx="944.35" cy="1573.5" r="5.25"/>
<circle cx="976.3" cy="1809.2" r="5.25"/>
<circle cx="1008.25" cy="1745.5" r="5.25"/>
<circle cx="1040.21" cy="1577.5" r="5.25"/>
<circle cx="1072.16" cy="1726.1" r="5.25"/>
<circle cx="1104.12" cy="1700.7" r="5.25"/>
<circle cx="1136.08" cy="1804.3" r="5.25"/>
<circle cx="1168.03" cy="1873.8" r="5.25"/>
<circle cx="1199.98" cy="1801" r="5.25"/>
<circle cx="1231.94" cy="1791.7" r="5.25"/>
<circle cx="1263.89" cy="1852.4" r="5.25"/>
<circle cx="1295.85" cy="1828.8" r="5.25"/>
<circle cx="1327.8" cy="1669" r="5.25"/>
<circle cx="1359.76" cy="1561.2" r="5.25"/>
<circle cx="1391.71" cy="1743.6" r="5.25"/>
<circle cx="1423.67" cy="1809" r="5.25"/>
<circle cx="1455.62" cy="1796.4" r="5.25"/>
<circle cx="1487.58" cy="1676" r="5.25"/>
</g>
<line x1="848.48" y1="1779.8" x2="1487.58" y2="1732.6" stroke="#828282" stroke-width="3.5" stroke-dasharray="15.3 15.25"/>
</g>
<text transform="translate(31.1 1194.4) rotate(-90)" font-size="34" textLength="471" lengthAdjust="spacingAndGlyphs">Normalized number of v-larvae</text>
<text x="766.9" y="2005.8" font-size="37.4" textLength="73.8" lengthAdjust="spacingAndGlyphs">Year</text>
</svg></body></html>
